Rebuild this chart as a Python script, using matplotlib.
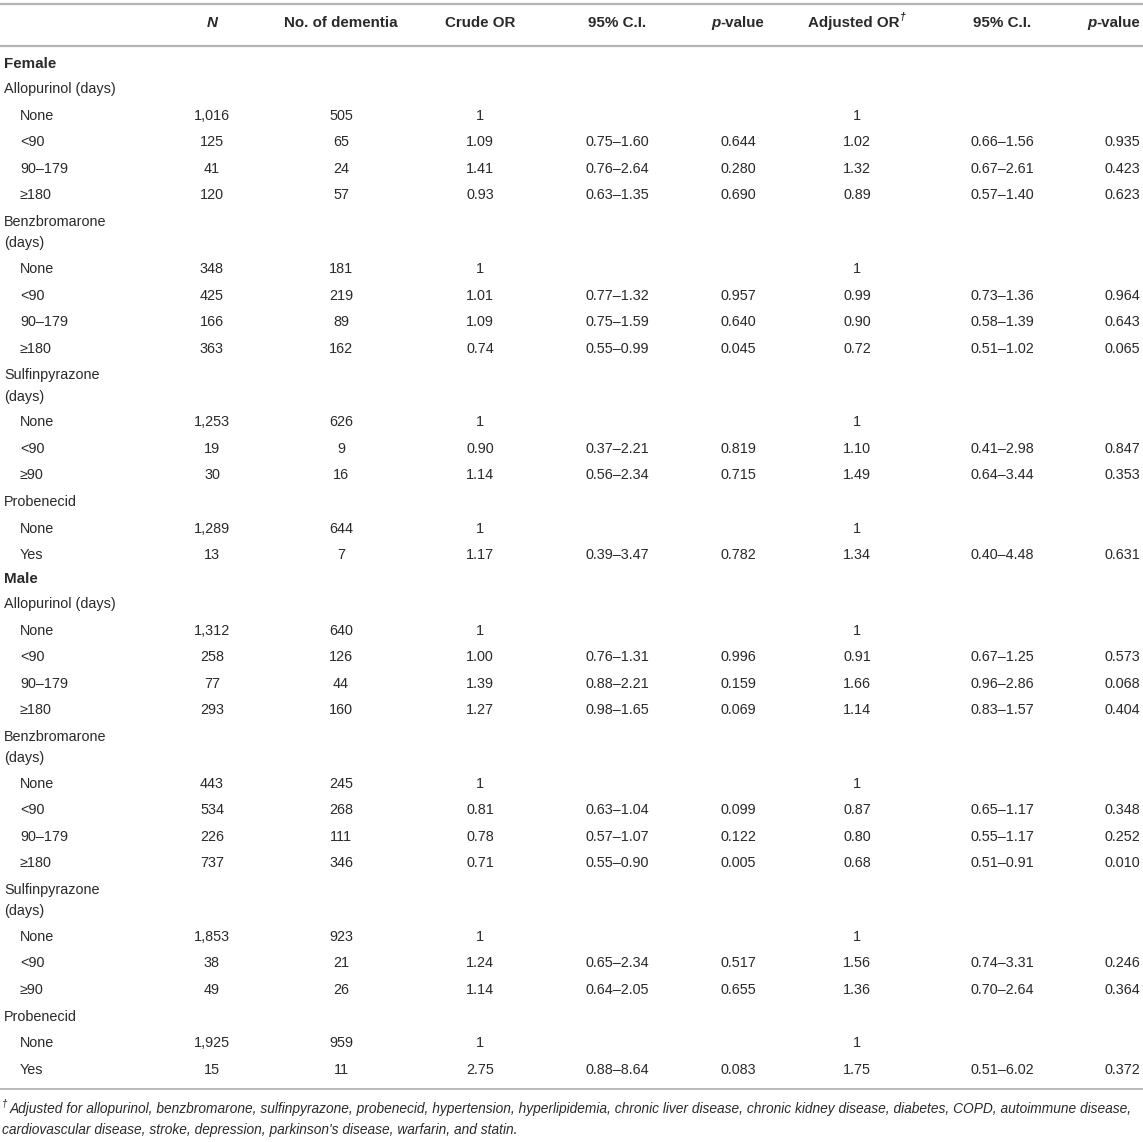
import matplotlib
matplotlib.use('Agg')
import matplotlib.pyplot as plt

plt.rcParams['font.family'] = ['Liberation Sans', 'DejaVu Sans']

# ---------------- data ----------------
columns = ["N", "No. of dementia", "Crude OR", "95% C.I.", "p-value",
           "Adjusted OR", "95% C.I.", "p-value"]
sexes = ["Female", "Male"]
drugs = ["Allopurinol (days)", "Benzbromarone\n(days)", "Sulfinpyrazone\n(days)", "Probenecid"]
levels = [["None", "<90", "90–179", "≥180"],
          ["None", "<90", "90–179", "≥180"],
          ["None", "<90", "≥90"],
          ["None", "Yes"]]

female_n = [1016, 125, 41, 120, 348, 425, 166, 363, 1253, 19, 30, 1289, 13]
female_dementia = [505, 65, 24, 57, 181, 219, 89, 162, 626, 9, 16, 644, 7]
female_crude_or = [1, 1.09, 1.41, 0.93, 1, 1.01, 1.09, 0.74, 1, 0.90, 1.14, 1, 1.17]
female_crude_lo = [None, 0.75, 0.76, 0.63, None, 0.77, 0.75, 0.55, None, 0.37, 0.56, None, 0.39]
female_crude_hi = [None, 1.60, 2.64, 1.35, None, 1.32, 1.59, 0.99, None, 2.21, 2.34, None, 3.47]
female_crude_p = [None, 0.644, 0.280, 0.690, None, 0.957, 0.640, 0.045, None, 0.819, 0.715, None, 0.782]
female_adj_or = [1, 1.02, 1.32, 0.89, 1, 0.99, 0.90, 0.72, 1, 1.10, 1.49, 1, 1.34]
female_adj_lo = [None, 0.66, 0.67, 0.57, None, 0.73, 0.58, 0.51, None, 0.41, 0.64, None, 0.40]
female_adj_hi = [None, 1.56, 2.61, 1.40, None, 1.36, 1.39, 1.02, None, 2.98, 3.44, None, 4.48]
female_adj_p = [None, 0.935, 0.423, 0.623, None, 0.964, 0.643, 0.065, None, 0.847, 0.353, None, 0.631]

male_n = [1312, 258, 77, 293, 443, 534, 226, 737, 1853, 38, 49, 1925, 15]
male_dementia = [640, 126, 44, 160, 245, 268, 111, 346, 923, 21, 26, 959, 11]
male_crude_or = [1, 1.00, 1.39, 1.27, 1, 0.81, 0.78, 0.71, 1, 1.24, 1.14, 1, 2.75]
male_crude_lo = [None, 0.76, 0.88, 0.98, None, 0.63, 0.57, 0.55, None, 0.65, 0.64, None, 0.88]
male_crude_hi = [None, 1.31, 2.21, 1.65, None, 1.04, 1.07, 0.90, None, 2.34, 2.05, None, 8.64]
male_crude_p = [None, 0.996, 0.159, 0.069, None, 0.099, 0.122, 0.005, None, 0.517, 0.655, None, 0.083]
male_adj_or = [1, 0.91, 1.66, 1.14, 1, 0.87, 0.80, 0.68, 1, 1.56, 1.36, 1, 1.75]
male_adj_lo = [None, 0.67, 0.96, 0.83, None, 0.65, 0.55, 0.51, None, 0.74, 0.70, None, 0.51]
male_adj_hi = [None, 1.25, 2.86, 1.57, None, 1.17, 1.17, 0.91, None, 3.31, 2.64, None, 6.02]
male_adj_p = [None, 0.573, 0.068, 0.404, None, 0.348, 0.252, 0.010, None, 0.246, 0.364, None, 0.372]

footnote_1 = ("Adjusted for allopurinol, benzbromarone, sulfinpyrazone, probenecid, hypertension, hyperlipidemia, "
              "chronic liver disease, chronic kidney disease, diabetes, COPD, autoimmune disease,")
footnote_2 = "cardiovascular disease, stroke, depression, parkinson's disease, warfarin, and statin."

sex_data = {
    "Female": [female_n, female_dementia, female_crude_or, female_crude_lo, female_crude_hi,
               female_crude_p, female_adj_or, female_adj_lo, female_adj_hi, female_adj_p],
    "Male": [male_n, male_dementia, male_crude_or, male_crude_lo, male_crude_hi,
             male_crude_p, male_adj_or, male_adj_lo, male_adj_hi, male_adj_p],
}

# ---------------- layout ----------------
W, H = 1143, 1142
fig = plt.figure(figsize=(W / 100, H / 100), dpi=100)
ax = fig.add_axes([0, 0, 1, 1])
ax.set_xlim(0, W)
ax.set_ylim(H, 0)
ax.axis('off')

TXT = '#2a2a2a'
LINE = '#b4b4b4'
FS = 10.4
HFS = 10.9
col_x = [212, 341, 480, 617, 738, 857, 1002, 1140]
col_ha = ['center'] * 7 + ['right']
label_x0 = 4
label_x1 = 20

renderer = fig.canvas.get_renderer()


def seg_width(text, **kw):
    t = ax.text(0, 0, text, fontsize=kw.get('fontsize', HFS), fontweight=kw.get('fontweight', 'normal'),
                fontstyle=kw.get('fontstyle', 'normal'))
    w = t.get_window_extent(renderer).width
    t.remove()
    return w


def rich(xc, y, segs, ha='center'):
    widths = [seg_width(s, **kw) for s, kw in segs]
    total = sum(widths)
    if ha == 'center':
        x = xc - total / 2
    elif ha == 'right':
        x = xc - total
    else:
        x = xc
    for (s, kw), w in zip(segs, widths):
        dy = kw.get('dy', 0)
        ax.text(x, y + dy, s, ha='left', va='center', color=TXT,
                fontsize=kw.get('fontsize', HFS), fontweight=kw.get('fontweight', 'normal'),
                fontstyle=kw.get('fontstyle', 'normal'))
        x += w


# rules
ax.plot([0, W], [3.5, 3.5], color=LINE, lw=1.6, solid_capstyle='butt')
ax.plot([0, W], [46, 46], color=LINE, lw=1.6, solid_capstyle='butt')

# header
hy = 23
B = dict(fontweight='bold')
BI = dict(fontweight='bold', fontstyle='italic')
rich(col_x[0], hy, [("N", dict(BI))])
rich(col_x[1], hy, [(columns[1], dict(B))])
rich(col_x[2], hy, [(columns[2], dict(B))])
rich(col_x[3], hy, [(columns[3], dict(B))])
rich(col_x[4], hy, [("p", dict(BI)), ("-value", dict(B))])
rich(col_x[5], hy, [(columns[5], dict(B)),
                    ("†", dict(fontweight='bold', fontstyle='italic', fontsize=7.5, dy=-6))])
rich(col_x[6], hy, [(columns[6], dict(B))])
rich(col_x[7], hy, [("p", dict(BI)), ("-value", dict(B))], ha='right')


def fmt_or(v, lo):
    return "1" if lo is None else f"{v:.2f}"


def put(ci, y, s):
    ax.text(col_x[ci], y, s, ha=col_ha[ci], va='center', color=TXT, fontsize=FS)


y = 64
STEP = 26.55
for si, sex in enumerate(sexes):
    if si > 0:
        y -= 3.0
    ax.text(label_x0, y, sex, ha='left', va='center', color=TXT, fontsize=HFS, fontweight='bold')
    y += 25
    d = sex_data[sex]
    r = 0
    for di, drug in enumerate(drugs):
        lines = drug.split('\n')
        for li, ln in enumerate(lines):
            ax.text(label_x0, y + li * 21.5, ln, ha='left', va='center', color=TXT, fontsize=FS)
        y += 47 if len(lines) > 1 else 26.8
        for lev in levels[di]:
            n, dem, cor, clo, chi, cp, aor, alo, ahi, ap = [arr[r] for arr in d]
            ax.text(label_x1, y, lev, ha='left', va='center', color=TXT, fontsize=FS)
            put(0, y, f"{n:,}")
            put(1, y, f"{dem:,}")
            put(2, y, fmt_or(cor, clo))
            if clo is not None:
                put(3, y, f"{clo:.2f}–{chi:.2f}")
                put(4, y, f"{cp:.3f}")
            put(5, y, fmt_or(aor, alo))
            if alo is not None:
                put(6, y, f"{alo:.2f}–{ahi:.2f}")
                put(7, y, f"{ap:.3f}")
            r += 1
            y += STEP

ax.plot([0, W], [1089, 1089], color=LINE, lw=1.3, solid_capstyle='butt')

# footnote (fit first line to width)
ffs = 9.0
t = ax.text(0, 0, footnote_1, fontsize=ffs, fontstyle='italic')
w = t.get_window_extent(renderer).width
t.remove()
ffs = ffs * 1128 / w
ax.text(2, 1104, "†", ha='left', va='center', color=TXT, fontsize=7, fontstyle='italic')
ax.text(10, 1109, footnote_1, ha='left', va='center', color=TXT, fontsize=ffs, fontstyle='italic')
ax.text(2, 1130, footnote_2, ha='left', va='center', color=TXT, fontsize=ffs, fontstyle='italic')

fig.savefig('out.png', dpi=100)
